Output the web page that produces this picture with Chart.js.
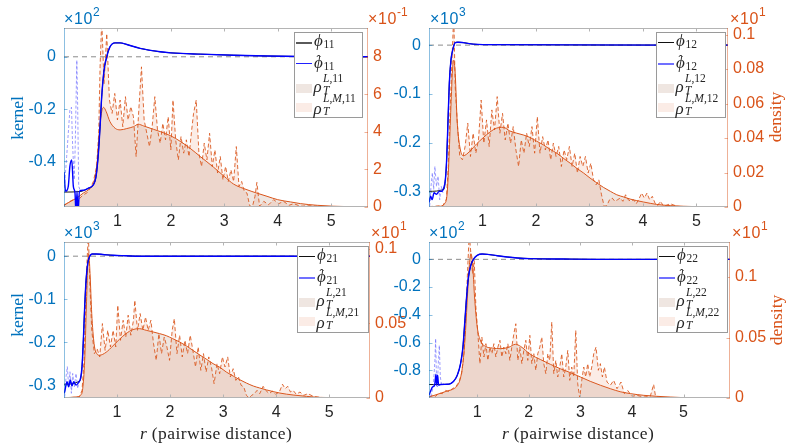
<!DOCTYPE html>
<html lang="en">
<head>
  <meta charset="UTF-8">
  <title>Interaction kernels and pairwise distance densities</title>
  <script src="https://cdn.jsdelivr.net/npm/chart.js"></script>
  <style>
    body { margin: 0; background: #fff; }
    #wrap { position: relative; width: 797px; height: 447px; overflow: hidden; }
    canvas { position: absolute; left: 0; top: 0; }
    .tx { position: absolute; white-space: nowrap; line-height: 1; }
    .sans { font-family: "Liberation Sans", Arial, sans-serif; font-size: 16px; letter-spacing: 0.6px; }
    .sans sup { font-size: 12px; vertical-align: baseline; position: relative; top: -8px; margin-left: 0; letter-spacing: 0; }
    .serif { font-family: "Liberation Serif", "DejaVu Serif", serif; }
    .blue { color: #0072BD; }
    .org { color: #D95319; }
    .rot { transform: translate(-50%, -50%) rotate(-90deg); font-size: 17.5px; }
    .xt { transform: translate(-50%, -50%); font-size: 17.5px; color: #262626; letter-spacing: 0.4px; }
    .leg { position: absolute; background: #fff; border: 1px solid #9a9a9a; box-sizing: border-box; color: #262626; }
  </style>
</head>
<body>
<div id="wrap">
  <canvas id="c11" width="797" height="447"></canvas>
  <canvas id="c12" width="797" height="447"></canvas>
  <canvas id="c21" width="797" height="447"></canvas>
  <canvas id="c22" width="797" height="447"></canvas>

  <!-- axis exponents -->
  <div class="tx sans blue" style="left:64px;top:11px">×10<sup>2</sup></div>
  <div class="tx sans org" style="left:368px;top:11px">×10<sup>-1</sup></div>
  <div class="tx sans blue" style="left:430px;top:11px">×10<sup>3</sup></div>
  <div class="tx sans org" style="left:730px;top:11px">×10<sup>1</sup></div>
  <div class="tx sans blue" style="left:64px;top:225px">×10<sup>3</sup></div>
  <div class="tx sans org" style="left:371px;top:225px">×10<sup>1</sup></div>
  <div class="tx sans blue" style="left:429px;top:225px">×10<sup>2</sup></div>
  <div class="tx sans org" style="left:732px;top:225px">×10<sup>1</sup></div>

  <!-- axis titles -->
  <div class="tx serif blue rot" style="left:18px;top:118px">kernel</div>
  <div class="tx serif blue rot" style="left:18px;top:315px">kernel</div>
  <div class="tx serif org rot" style="left:776px;top:117px">density</div>
  <div class="tx serif org rot" style="left:777px;top:320px">density</div>
  <div class="tx serif xt" style="left:216px;top:434px"><i>r</i> (pairwise distance)</div>
  <div class="tx serif xt" style="left:578px;top:434px"><i>r</i> (pairwise distance)</div>
</div>

<script>
// ---------- shared ticks ----------
const xTicks = [1, 2, 3, 4, 5];

// ---------- panel 11 ----------
const xLim11 = [0, 5.69];
const kLim11 = [-0.574, 0.110];
const dLim11 = [0, 9.54];
const kTicks11 = [-0.4, -0.2, 0];
const dTicks11 = [0, 2, 4, 6, 8];

const rPhi11 = [0, 0.30, 0.45, 0.55, 0.60, 0.644, 0.675, 0.706, 0.75, 0.80, 0.86, 0.956, 1.05, 1.175, 1.425, 1.80, 2.00, 2.55, 3.175, 3.80, 4.425, 5.69];
const phi11 = [-0.517, -0.515, -0.503, -0.489, -0.457, -0.368, -0.267, -0.152, -0.051, 0.0, 0.038, 0.053, 0.053, 0.047, 0.032, 0.019, 0.015, 0.010, 0.006, 0.003, 0.001, 0];

const rHat11 = [0, 0.03, 0.08, 0.11, 0.145, 0.175, 0.206, 0.225, 0.244, 0.26, 0.29, 0.36, 0.456, 0.55, 0.60, 0.644, 0.675, 0.706, 0.75, 0.80, 0.86, 0.956, 1.05, 1.175, 1.425, 1.80, 2.00, 2.55, 3.175, 3.80, 4.425, 5.69];
const phiHat11 = [-0.44, -0.514, -0.495, -0.419, -0.394, -0.495, -0.521, -0.60, -0.514, -0.60, -0.514, -0.510, -0.502, -0.489, -0.457, -0.368, -0.267, -0.152, -0.051, 0.0, 0.038, 0.053, 0.053, 0.047, 0.032, 0.019, 0.015, 0.010, 0.006, 0.003, 0.001, 0];

const rHatLo11 = [0, 0.05, 0.08, 0.11, 0.14, 0.16, 0.19, 0.21, 0.24, 0.256, 0.275, 0.31];
const phiHatLo11 = [-0.52, -0.381, -0.292, -0.203, -0.193, -0.330, -0.470, -0.343, -0.013, -0.190, -0.495, -0.514];

const rRho11 = [0, 0.05, 0.24, 0.36, 0.49, 0.58, 0.625, 0.66, 0.70, 0.74, 0.79, 0.86, 0.96, 1.05, 1.175, 1.30, 1.39, 1.49, 1.675, 1.80, 2.00, 2.175, 2.36, 2.55, 2.80, 3.00, 3.175, 3.425, 3.61, 3.80, 4.00, 4.24, 4.425, 4.74, 5.05, 5.69];
const rhoL11 = [0.07, 0.18, 0.48, 0.74, 1.01, 1.54, 2.51, 3.93, 4.99, 5.31, 5.08, 4.55, 4.19, 4.11, 4.18, 4.28, 4.41, 4.32, 4.14, 4.02, 3.79, 3.50, 3.13, 2.69, 2.12, 1.63, 1.22, 0.92, 0.74, 0.57, 0.39, 0.27, 0.18, 0.09, 0.04, 0];

const rRhoM11 = [0, 0.05, 0.11, 0.175, 0.24, 0.30, 0.36, 0.425, 0.49, 0.55,
  0.61, 0.65, 0.675, 0.706, 0.75, 0.80, 0.85, 0.90, 0.95, 1.00,
  1.05, 1.10, 1.15, 1.20, 1.25, 1.30, 1.35, 1.40, 1.45, 1.50,
  1.55, 1.60, 1.65, 1.70, 1.75, 1.80, 1.85, 1.90, 1.95, 2.00,
  2.04, 2.09, 2.14, 2.19, 2.24, 2.29, 2.34, 2.39, 2.425, 2.475,
  2.525, 2.575, 2.625, 2.675, 2.725, 2.775, 2.825, 2.875, 2.925, 2.975,
  3.025, 3.075, 3.125, 3.175, 3.225, 3.275, 3.325, 3.375, 3.425, 3.475,
  3.525, 3.575, 3.61, 3.66, 3.74, 3.83, 3.925, 4.02, 4.11, 4.21,
  4.30, 4.425, 4.61, 4.80, 5.05, 5.69];
const rhoLM11 = [0.12, 0.18, 0.30, 0.39, 0.25, 0.48, 0.65, 0.74, 1.01, 1.36,
  2.16, 3.93, 7.47, 9.95, 6.58, 9.24, 5.70, 4.99, 6.05, 4.64,
  5.70, 4.28, 5.88, 4.64, 5.35, 4.81, 2.69, 5.17, 7.47, 4.64,
  3.93, 3.22, 4.28, 5.88, 4.11, 3.40, 4.46, 3.58, 4.81, 3.04,
  5.70, 3.58, 2.51, 3.75, 2.87, 3.58, 2.69, 4.11, 4.99, 5.70,
  2.87, 2.16, 3.40, 2.51, 3.93, 2.16, 3.04, 1.81, 2.69, 1.45,
  2.16, 1.36, 1.98, 1.36, 3.22, 1.10, 1.36, 0.83, 0.74, 0.07,
  0, 0.57, 1.31, 0.04, 0.30, 0.12, 0.39, 0.18, 0.30, 0.09,
  0.18, 0.04, 0.07, 0.02, 0, 0];

// ---------- panel 12 ----------
const xLim12 = [0, 5.59];
const kLim12 = [-0.331, 0.035];
const dLim12 = [0, 0.1038];
const kTicks12 = [-0.3, -0.2, -0.1, 0];
const dTicks12 = [0, 0.02, 0.04, 0.06, 0.08, 0.1];

const rPhi12 = [0, 0.28, 0.306, 0.33, 0.356, 0.38, 0.41, 0.45, 0.49, 0.54, 0.64, 0.825, 1.01, 5.59];
const phi12 = [-0.299, -0.295, -0.275, -0.234, -0.153, -0.078, -0.031, -0.007, 0.005, 0.006, 0.005, 0.002, 0.001, 0];

const rHat12 = [0, 0.03, 0.06, 0.094, 0.14, 0.19, 0.24, 0.275, 0.306, 0.33, 0.356, 0.38, 0.41, 0.45, 0.49, 0.54, 0.64, 0.825, 1.01, 5.59];
const phiHat12 = [-0.322, -0.309, -0.316, -0.302, -0.305, -0.299, -0.299, -0.292, -0.275, -0.234, -0.153, -0.078, -0.031, -0.007, 0.005, 0.006, 0.005, 0.002, 0.001, 0];

const rHatLo12 = [0.0125, 0.0375, 0.0625, 0.0875, 0.11, 0.14, 0.17, 0.2, 0.23, 0.26];
const phiHatLo12 = [-0.329, -0.289, -0.261, -0.295, -0.248, -0.289, -0.268, -0.316, -0.289, -0.302];

const rRho12 = [0, 0.2, 0.29, 0.34, 0.375, 0.41, 0.44, 0.46, 0.49, 0.525, 0.575, 0.64, 0.76, 0.89, 1.01, 1.14, 1.26, 1.39, 1.51, 1.64, 1.76, 1.89, 2.01, 2.14, 2.26, 2.39, 2.51, 2.64, 2.76, 2.89, 3.01, 3.14, 3.26, 3.39, 3.51, 3.64, 3.76, 4.01, 4.26, 4.51, 5.01, 5.59];
const rhoL12 = [0.0002, 0.0004, 0.0019, 0.0081, 0.0293, 0.0582, 0.0794, 0.0852, 0.0775, 0.0505, 0.0351, 0.0297, 0.0322, 0.0366, 0.0401, 0.0435, 0.0457, 0.0462, 0.0441, 0.0428, 0.0418, 0.0403, 0.0382, 0.0360, 0.0335, 0.0312, 0.0283, 0.0254, 0.0225, 0.0197, 0.0168, 0.0139, 0.0114, 0.0091, 0.0071, 0.0058, 0.0046, 0.0029, 0.0015, 0.0008, 0.0002, 0];

const rRhoM12 = [0, 0.26, 0.325, 0.36, 0.39, 0.425, 0.4625, 0.49, 0.53, 0.575,
  0.625, 0.675, 0.725, 0.775, 0.825, 0.875, 0.925, 0.975, 1.025, 1.075,
  1.125, 1.175, 1.225, 1.275, 1.325, 1.375, 1.425, 1.475, 1.525, 1.575,
  1.625, 1.675, 1.725, 1.775, 1.825, 1.875, 1.925, 1.975, 2.025, 2.075,
  2.125, 2.175, 2.225, 2.275, 2.325, 2.375, 2.425, 2.475, 2.525, 2.575,
  2.625, 2.675, 2.725, 2.775, 2.825, 2.875, 2.925, 2.975, 3.025, 3.075,
  3.125, 3.175, 3.225, 3.275, 3.325, 3.375, 3.425, 3.475, 3.525, 3.575,
  3.625, 3.675, 3.725, 3.775, 3.825, 3.875, 3.925, 3.975, 4.025, 4.075,
  4.125, 4.175, 4.225, 4.275, 4.325, 4.39, 4.51, 4.64, 4.825, 5.59];
const rhoLM12 = [0.0002, 0.0008, 0.0046, 0.0235, 0.0524, 0.0813, 0.112, 0.0697, 0.0486, 0.0293,
  0.0274, 0.0351, 0.0486, 0.0293, 0.0428, 0.0312, 0.0389, 0.062, 0.0370, 0.0505,
  0.0351, 0.0563, 0.0447, 0.064, 0.0428, 0.0543, 0.0389, 0.0486, 0.0370, 0.0466,
  0.0331, 0.0235, 0.0389, 0.0312, 0.0428, 0.0351, 0.0466, 0.0312, 0.0524, 0.0312,
  0.0408, 0.0331, 0.0389, 0.0274, 0.0370, 0.0293, 0.0351, 0.0235, 0.0331, 0.0274,
  0.0351, 0.0235, 0.0312, 0.0197, 0.0293, 0.0235, 0.0293, 0.0197, 0.0254, 0.0158,
  0.0129, 0.0158, 0.0071, 0.0004, 0.0008, 0.0042, 0.0052, 0.0033, 0.0042, 0.0052,
  0.0033, 0.0071, 0.0042, 0.0033, 0.0042, 0.0019, 0.0046, 0.0081, 0.0052, 0.0081,
  0.0042, 0.0062, 0.0023, 0.0008, 0.0033, 0.0004, 0.0019, 0.0004, 0, 0];

// ---------- panel 21 ----------
const xLim21 = [0, 5.77];
const kLim21 = [-0.33, 0.033];
const dLim21 = [0, 0.1044];
const kTicks21 = [-0.3, -0.2, -0.1, 0];
const dTicks21 = [0, 0.05, 0.1];

const rPhi21 = [0, 0.30, 0.34, 0.365, 0.39, 0.416, 0.447, 0.479, 0.53, 0.605, 0.73, 0.92, 1.17, 1.42, 5.77];
const phi21 = [-0.298, -0.290, -0.257, -0.195, -0.118, -0.056, -0.017, -0.002, 0.005, 0.005, 0.004, 0.002, 0.001, 0, 0];

const rHat21 = [0.006, 0.025, 0.057, 0.088, 0.12, 0.15, 0.183, 0.227, 0.27, 0.31, 0.34, 0.365, 0.39, 0.416, 0.447, 0.479, 0.53, 0.605, 0.73, 0.92, 1.17, 1.42, 5.77];
const phiHat21 = [-0.319, -0.308, -0.292, -0.304, -0.288, -0.302, -0.292, -0.300, -0.295, -0.285, -0.257, -0.195, -0.118, -0.056, -0.017, -0.002, 0.005, 0.005, 0.004, 0.002, 0.001, 0, 0];

const rHatLo21 = [0.013, 0.038, 0.063, 0.088, 0.113, 0.139, 0.164, 0.195, 0.227, 0.258, 0.29];
const phiHatLo21 = [-0.327, -0.281, -0.257, -0.304, -0.269, -0.319, -0.273, -0.304, -0.273, -0.308, -0.288];

const rRho21 = [0, 0.227, 0.31, 0.353, 0.39, 0.422, 0.447, 0.466, 0.491, 0.523, 0.567, 0.617, 0.668, 0.794, 0.92, 1.046, 1.17, 1.30, 1.42, 1.55, 1.68, 1.80, 1.93, 2.05, 2.18, 2.31, 2.43, 2.56, 2.68, 2.81, 2.94, 3.06, 3.19, 3.31, 3.44, 3.57, 3.69, 3.82, 4.07, 4.32, 4.57, 4.83, 5.77];
const rhoL21 = [0.0002, 0.0007, 0.0018, 0.0063, 0.0252, 0.0609, 0.0877, 0.0967, 0.0833, 0.0565, 0.0364, 0.0297, 0.0286, 0.0306, 0.0348, 0.0393, 0.0431, 0.0458, 0.0464, 0.0453, 0.0442, 0.0431, 0.0417, 0.0397, 0.0375, 0.0348, 0.0319, 0.0288, 0.0261, 0.0230, 0.0205, 0.0174, 0.0147, 0.0123, 0.0100, 0.0080, 0.0067, 0.0054, 0.0033, 0.0020, 0.0011, 0.0004, 0];

const rRhoM21 = [0, 0.29, 0.34, 0.378, 0.41, 0.435, 0.46, 0.485, 0.523, 0.573,
  0.624, 0.674, 0.724, 0.775, 0.825, 0.876, 0.926, 0.976, 1.014, 1.065,
  1.115, 1.165, 1.21, 1.26, 1.31, 1.335, 1.386, 1.436, 1.487, 1.537,
  1.587, 1.638, 1.688, 1.739, 1.789, 1.839, 1.89, 1.94, 1.99, 2.04,
  2.08, 2.13, 2.18, 2.23, 2.28, 2.33, 2.38, 2.43, 2.48, 2.53,
  2.58, 2.63, 2.68, 2.73, 2.78, 2.83, 2.885, 2.935, 2.986, 3.036,
  3.087, 3.137, 3.19, 3.24, 3.29, 3.34, 3.39, 3.44, 3.49, 3.54,
  3.59, 3.64, 3.69, 3.755, 3.805, 3.87, 3.93, 3.99, 4.06, 4.12,
  4.17, 4.22, 4.27, 4.32, 4.38, 4.45, 4.52, 4.60, 4.70, 4.83,
  5.08, 5.77];
const rhoLM21 = [0, 0.0007, 0.0051, 0.0252, 0.0632, 0.0922, 0.110, 0.0788, 0.0453, 0.0297,
  0.0330, 0.0275, 0.0498, 0.0319, 0.0453, 0.0342, 0.0453, 0.0342, 0.0621, 0.0386,
  0.0520, 0.0408, 0.0554, 0.0420, 0.0520, 0.0654, 0.0453, 0.0565, 0.0453, 0.0542,
  0.0453, 0.0520, 0.0364, 0.0252, 0.0431, 0.0297, 0.0408, 0.0342, 0.0252, 0.0453,
  0.0531, 0.0297, 0.0420, 0.0275, 0.0386, 0.0297, 0.0420, 0.0319, 0.0208, 0.0342,
  0.0185, 0.0297, 0.0174, 0.0275, 0.0208, 0.0096, 0.0230, 0.0163, 0.0275, 0.0208,
  0.0275, 0.0141, 0.0196, 0.0118, 0.0141, 0.0085, 0.0074, 0.0018, 0, 0.0018,
  0.0029, 0.0051, 0.0029, 0.0078, 0.0051, 0.0029, 0.0047, 0.0025, 0.0040, 0.0092,
  0.0063, 0.0078, 0.0040, 0.0051, 0.0025, 0.0040, 0.0018, 0.0029, 0.0011, 0.0004,
  0, 0];

// ---------- panel 22 ----------
const xLim22 = [0.065, 5.9];
const kLim22 = [-1.0, 0.125];
const dLim22 = [0, 0.129];
const kTicks22 = [-0.8, -0.6, -0.4, -0.2, 0];
const dTicks22 = [0, 0.05, 0.1];

const rPhi22 = [0.065, 0.42, 0.484, 0.548, 0.613, 0.677, 0.723, 0.761, 0.794, 0.826, 0.871, 0.935, 1.0, 1.097, 1.194, 1.387, 1.58, 1.774, 2.03, 2.68, 3.32, 5.9];
const phi22 = [-0.903, -0.901, -0.896, -0.877, -0.836, -0.752, -0.632, -0.440, -0.271, -0.139, -0.048, 0.005, 0.029, 0.038, 0.036, 0.026, 0.017, 0.010, 0.005, 0.002, 0, 0];

const rHat22 = [0.065, 0.097, 0.135, 0.174, 0.2, 0.213, 0.232, 0.252, 0.29, 0.42, 0.484, 0.548, 0.613, 0.677, 0.723, 0.761, 0.794, 0.826, 0.871, 0.935, 1.0, 1.097, 1.194, 1.387, 1.58, 1.774, 2.03, 2.68, 3.32, 5.9];
const phiHat22 = [-0.980, -0.949, -0.920, -0.908, -0.829, -0.908, -0.836, -0.908, -0.903, -0.901, -0.896, -0.877, -0.836, -0.752, -0.632, -0.440, -0.271, -0.139, -0.048, 0.005, 0.029, 0.038, 0.036, 0.026, 0.017, 0.010, 0.005, 0.002, 0, 0];

const rHatLo22 = [0.097, 0.148, 0.18, 0.194, 0.206, 0.226, 0.245, 0.265, 0.284, 0.31, 0.355];
const phiHatLo22 = [-0.99, -0.920, -0.728, -0.572, -0.800, -0.920, -0.752, -0.620, -0.848, -0.908, -0.896];

const rRho22 = [0.065, 0.226, 0.42, 0.548, 0.613, 0.677, 0.729, 0.774, 0.813, 0.845, 0.877, 0.91, 0.948, 1.0, 1.065, 1.16, 1.29, 1.45, 1.61, 1.74, 1.84, 1.935, 2.03, 2.23, 2.42, 2.61, 2.81, 3.0, 3.19, 3.39, 3.58, 3.77, 3.97, 4.23, 4.48, 4.74, 5.0, 5.9];
const rhoL22 = [0.0008, 0.0030, 0.0058, 0.0077, 0.0102, 0.0168, 0.0311, 0.0559, 0.0862, 0.1083, 0.1193, 0.1110, 0.0835, 0.0587, 0.0471, 0.0427, 0.0413, 0.0408, 0.0419, 0.0444, 0.0427, 0.0394, 0.0361, 0.0317, 0.0278, 0.0242, 0.0209, 0.0174, 0.0138, 0.0105, 0.0077, 0.0052, 0.0036, 0.0022, 0.0014, 0.0008, 0.0003, 0];

const rRhoM22 = [0.065, 0.13, 0.194, 0.258, 0.323, 0.387, 0.452, 0.516, 0.58, 0.645,
  0.697, 0.742, 0.78, 0.813, 0.845, 0.877, 0.91, 0.942, 0.974, 1.013,
  1.052, 1.09, 1.13, 1.168, 1.206, 1.245, 1.284, 1.323, 1.361, 1.40,
  1.44, 1.477, 1.516, 1.555, 1.594, 1.632, 1.67, 1.71, 1.748, 1.787,
  1.826, 1.865, 1.903, 1.942, 1.98, 2.02, 2.058, 2.097, 2.135, 2.174,
  2.213, 2.252, 2.29, 2.33, 2.368, 2.406, 2.445, 2.484, 2.523, 2.561,
  2.60, 2.639, 2.677, 2.716, 2.755, 2.794, 2.832, 2.871, 2.91, 2.948,
  2.987, 3.026, 3.065, 3.103, 3.142, 3.18, 3.22, 3.258, 3.303, 3.348,
  3.387, 3.426, 3.465, 3.516, 3.58, 3.645, 3.71, 3.787, 3.852, 3.916,
  4.0, 4.097, 4.226, 4.355, 4.42, 4.458, 4.61, 5.9];
const rhoLM22 = [0.0006, 0.0022, 0.0014, 0.0041, 0.0036, 0.0063, 0.0052, 0.0077, 0.0091, 0.0132,
  0.0201, 0.0366, 0.0697, 0.1055, 0.136, 0.1193, 0.1028, 0.1138, 0.0752, 0.0532,
  0.0284, 0.0504, 0.0339, 0.0449, 0.0311, 0.0421, 0.0366, 0.0449, 0.0339, 0.0421,
  0.0477, 0.0339, 0.0421, 0.0366, 0.0449, 0.0311, 0.0421, 0.0532, 0.0614, 0.0311,
  0.0421, 0.0284, 0.0394, 0.0477, 0.0311, 0.0518, 0.0284, 0.0366, 0.0229, 0.0366,
  0.0421, 0.0504, 0.0284, 0.0201, 0.0366, 0.0311, 0.0628, 0.0201, 0.0311, 0.0174,
  0.0256, 0.0366, 0.0174, 0.0256, 0.0394, 0.0146, 0.0256, 0.0174, 0.0559, 0.0118,
  0, 0.0146, 0.0256, 0.0174, 0.0284, 0.0174, 0.0256, 0.0366, 0.0421, 0.0229,
  0.0284, 0.0174, 0.0256, 0.0132, 0.0105, 0.0146, 0.0077, 0.0132, 0.0036, 0.0063,
  0.0014, 0.0022, 0.0008, 0.0014, 0.0113, 0.0008, 0.0003, 0];

// ---------- styling ----------
const BLUE = '#0072BD';
const ORANGE = '#D95319';
const FILL_L = 'rgba(180,140,120,0.22)';
const FILL_LM = 'rgba(230,120,80,0.14)';

const panels = [
  { id: 'c11', sub: '11', area: [64, 28, 368, 207], xLim: xLim11, kLim: kLim11, dLim: dLim11, kTicks: kTicks11, dTicks: dTicks11,
    phi: [rPhi11, phi11], hat: [rHat11, phiHat11], hatLo: [rHatLo11, phiHatLo11], rhoL: [rRho11, rhoL11], rhoLM: [rRhoM11, rhoLM11],
    leg: [294, 32, 69, 86], legPhi: ['#5a5a5a', 2], legHat: ['#2020ff', 1] },
  { id: 'c12', sub: '12', area: [429, 28, 728, 207], xLim: xLim12, kLim: kLim12, dLim: dLim12, kTicks: kTicks12, dTicks: dTicks12,
    phi: [rPhi12, phi12], hat: [rHat12, phiHat12], hatLo: [rHatLo12, phiHatLo12], rhoL: [rRho12, rhoL12], rhoLM: [rRhoM12, rhoLM12],
    leg: [656, 32, 70, 86], legPhi: ['#111', 1], legHat: ['#7070ff', 2.2] },
  { id: 'c21', sub: '21', area: [64, 242, 370, 398], xLim: xLim21, kLim: kLim21, dLim: dLim21, kTicks: kTicks21, dTicks: dTicks21,
    phi: [rPhi21, phi21], hat: [rHat21, phiHat21], hatLo: [rHatLo21, phiHatLo21], rhoL: [rRho21, rhoL21], rhoLM: [rRhoM21, rhoLM21],
    leg: [297, 246, 72, 87], legPhi: ['#111', 1], legHat: ['#7070ff', 2.2] },
  { id: 'c22', sub: '22', area: [429, 242, 730, 398], xLim: xLim22, kLim: kLim22, dLim: dLim22, kTicks: kTicks22, dTicks: dTicks22,
    phi: [rPhi22, phi22], hat: [rHat22, phiHat22], hatLo: [rHatLo22, phiHatLo22], rhoL: [rRho22, rhoL22], rhoLM: [rRhoM22, rhoLM22],
    leg: [657, 246, 71, 87], legPhi: ['#111', 1], legHat: ['#7070ff', 2.2] }
];

function pts(xs, ys) {
  return xs.map((x, i) => ({ x: x, y: ys[i] }));
}

// box around the axes with inward ticks, like the matlab figure
const framePlugin = {
  id: 'frame',
  afterDatasetsDraw(chart) {
    const { ctx, chartArea: a, scales } = chart;
    const t = 3.5;
    ctx.save();
    ctx.lineWidth = 1;
    ctx.strokeStyle = '#b4b4b4';
    ctx.beginPath();
    ctx.moveTo(a.left, a.top + 0.5); ctx.lineTo(a.right, a.top + 0.5);
    ctx.moveTo(a.left, a.bottom - 0.5); ctx.lineTo(a.right, a.bottom - 0.5);
    scales.x.ticks.forEach(tk => {
      const px = Math.round(scales.x.getPixelForValue(tk.value)) + 0.5;
      ctx.moveTo(px, a.bottom); ctx.lineTo(px, a.bottom - t);
      ctx.moveTo(px, a.top); ctx.lineTo(px, a.top + t);
    });
    ctx.stroke();

    ctx.strokeStyle = 'rgba(0,114,189,0.45)';
    ctx.beginPath();
    ctx.moveTo(a.left + 0.5, a.top); ctx.lineTo(a.left + 0.5, a.bottom);
    scales.yk.ticks.forEach(tk => {
      const py = Math.round(scales.yk.getPixelForValue(tk.value)) + 0.5;
      ctx.moveTo(a.left, py); ctx.lineTo(a.left + t, py);
    });
    ctx.stroke();

    ctx.strokeStyle = 'rgba(217,83,25,0.45)';
    ctx.beginPath();
    ctx.moveTo(a.right - 0.5, a.top); ctx.lineTo(a.right - 0.5, a.bottom);
    scales.yd.ticks.forEach(tk => {
      const py = Math.round(scales.yd.getPixelForValue(tk.value)) + 0.5;
      ctx.moveTo(a.right, py); ctx.lineTo(a.right - t, py);
    });
    ctx.stroke();
    ctx.restore();
  }
};

function fixedTicks(list) {
  return s => { s.ticks = list.map(v => ({ value: v })); };
}

function makeChart(p) {
  const font = { family: '"Liberation Sans", Arial, sans-serif', size: 16 };
  const [L, T, R, B] = p.area;
  new Chart(document.getElementById(p.id), {
    type: 'line',
    data: {
      datasets: [
        { data: pts(p.hat[0], p.hat[1]), yAxisID: 'yk', borderColor: '#0000ff', borderWidth: 1.4,
          cubicInterpolationMode: 'monotone', order: 1 },
        { data: pts(p.hatLo[0], p.hatLo[1]), yAxisID: 'yk', borderColor: 'rgba(90,90,255,0.6)', borderWidth: 1,
          borderDash: [3, 2], order: 2 },
        { data: pts(p.phi[0], p.phi[1]), yAxisID: 'yk', borderColor: '#1a1a1a', borderWidth: 1,
          cubicInterpolationMode: 'monotone', order: 3 },
        { data: pts(p.xLim, [0, 0]), yAxisID: 'yk', borderColor: '#8c8c8c', borderWidth: 1,
          borderDash: [5, 4], order: 4 },
        { data: pts(p.rhoLM[0], p.rhoLM[1]), yAxisID: 'yd', borderColor: 'rgba(217,83,25,0.85)', borderWidth: 1,
          borderDash: [4, 2.5], fill: 'origin', backgroundColor: FILL_LM, order: 5 },
        { data: pts(p.rhoL[0], p.rhoL[1]), yAxisID: 'yd', borderColor: ORANGE, borderWidth: 1,
          cubicInterpolationMode: 'monotone', fill: 'origin', backgroundColor: FILL_L, order: 6 }
      ]
    },
    options: {
      responsive: false,
      animation: false,
      events: [],
      layout: { padding: { left: L - 40, right: 797 - R - 40, top: T, bottom: 447 - B - 30 } },
      elements: { point: { radius: 0 }, line: { tension: 0 } },
      plugins: { legend: { display: false }, tooltip: { enabled: false } },
      scales: {
        x: {
          type: 'linear', min: p.xLim[0], max: p.xLim[1],
          grid: { display: false, drawTicks: false }, border: { display: false },
          ticks: { font: font, color: '#262626', padding: 5, callback: v => String(v) },
          afterBuildTicks: fixedTicks(xTicks),
          afterFit: s => { s.height = 30; }
        },
        yk: {
          position: 'left', min: p.kLim[0], max: p.kLim[1],
          grid: { display: false, drawTicks: false }, border: { display: false },
          ticks: { font: font, color: BLUE, padding: 8, callback: v => String(v) },
          afterBuildTicks: fixedTicks(p.kTicks),
          afterFit: s => { s.width = 40; }
        },
        yd: {
          position: 'right', min: p.dLim[0], max: p.dLim[1],
          grid: { display: false, drawTicks: false }, border: { display: false },
          ticks: { font: font, color: ORANGE, padding: 5, callback: v => String(v) },
          afterBuildTicks: fixedTicks(p.dTicks),
          afterFit: s => { s.width = 40; }
        }
      }
    },
    plugins: [framePlugin]
  });
}

// legend boxes as html so the math labels stay real text
function addText(parent, x, base, size, html, italic) {
  const s = document.createElement('span');
  s.className = 'tx serif';
  s.style.left = x + 'px';
  s.style.top = (base - 0.84 * size) + 'px';
  s.style.fontSize = size + 'px';
  if (italic) s.style.fontStyle = 'italic';
  s.innerHTML = html;
  parent.appendChild(s);
}

function addSwatch(parent, top, h, color) {
  const d = document.createElement('div');
  d.style.cssText = 'position:absolute;left:1px;width:16px;top:' + top + 'px;height:' + h + 'px;background:' + color;
  parent.appendChild(d);
}

function addLegend(p) {
  const [x, y, w, h] = p.leg;
  const box = document.createElement('div');
  box.className = 'leg';
  box.style.cssText = 'left:' + x + 'px;top:' + y + 'px;width:' + w + 'px;height:' + h + 'px';
  document.getElementById('wrap').appendChild(box);

  addSwatch(box, 9.7 - p.legPhi[1] / 2, p.legPhi[1], p.legPhi[0]);
  addText(box, 19, 13.5, 17, '\u03D5', true);
  addText(box, 28.5, 16, 11.5, p.sub);

  addSwatch(box, 30.7 - p.legHat[1] / 2, p.legHat[1], p.legHat[0]);
  addText(box, 19, 35.5, 17, '\u03D5', true);
  addText(box, 21.5, 31, 13, '\u02C6');
  addText(box, 28.5, 37.5, 11.5, p.sub);

  addSwatch(box, 51, 9, FILL_L);
  addText(box, 18.5, 59, 17, '\u03C1', true);
  addText(box, 28, 50, 11.5, '<i>L</i>,' + p.sub);
  addText(box, 28, 62, 11.5, 'T', true);

  addSwatch(box, 70, 9, FILL_LM);
  addText(box, 18.5, 81, 17, '\u03C1', true);
  addText(box, 28, 70, 11.5, '<i>L</i>,<i>M</i>,' + p.sub);
  addText(box, 28, 83, 11.5, 'T', true);
}

panels.forEach(p => {
  makeChart(p);
  addLegend(p);
});
</script>
</body>
</html>
